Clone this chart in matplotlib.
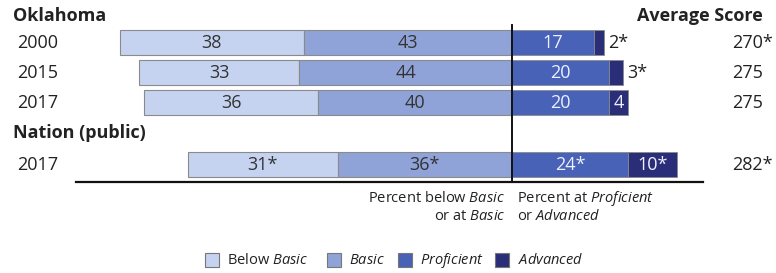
import matplotlib
matplotlib.use("Agg")
import matplotlib.pyplot as plt

plt.rcParams['font.family'] = ['Open Sans', 'DejaVu Sans']
plt.rcParams['mathtext.fontset'] = 'custom'
plt.rcParams['mathtext.rm'] = 'Open Sans'
plt.rcParams['mathtext.it'] = 'Open Sans:italic'

# ---- data ----
rows = ['2000', '2015', '2017', '2017']
below = [38, 33, 36, 31]
basic = [43, 44, 40, 36]
prof = [17, 20, 20, 24]
adv = [2, 3, 4, 10]
below_lbl = ['38', '33', '36', '31*']
basic_lbl = ['43', '44', '40', '36*']
prof_lbl = ['17', '20', '20', '24*']
adv_lbl = ['2*', '3*', '4', '10*']
scores = ['270*', '275', '275', '282*']

# ---- layout (pixel based) ----
W, H = 776, 273
CX = 512.0      # pixel of 0 %
S = 4.84        # pixels per percent
ypos = [42.5, 72.5, 102.5, 164.5]
bh = 25

def px(xp):
    return (xp - CX) / S

c_below = '#c6d3f0'
c_basic = '#8fa3d8'
c_prof = '#4762b6'
c_adv = '#2a2e78'
edge = '#8a8a8a'

fig = plt.figure(figsize=(W / 100, H / 100), dpi=100)
ax = fig.add_axes([0, 0, 1, 1])
ax.set_xlim(px(0), px(W))
ax.set_ylim(H, 0)
ax.axis('off')

fs = 13
for i in range(len(rows)):
    y = ypos[i]
    lb = -(below[i] + basic[i])
    ax.barh(y, below[i], left=lb, height=bh, color=c_below, edgecolor=edge, linewidth=0.8)
    ax.barh(y, basic[i], left=-basic[i], height=bh, color=c_basic, edgecolor=edge, linewidth=0.8)
    ax.barh(y, prof[i], left=0, height=bh, color=c_prof, edgecolor=edge, linewidth=0.6)
    ax.barh(y, adv[i], left=prof[i], height=bh, color=c_adv, edgecolor=edge, linewidth=0.6)
    ax.text(lb + below[i] / 2, y, below_lbl[i], ha='center', va='center', fontsize=fs, color='#333333')
    ax.text(-basic[i] / 2, y, basic_lbl[i], ha='center', va='center', fontsize=fs, color='#333333')
    ax.text(prof[i] / 2, y, prof_lbl[i], ha='center', va='center', fontsize=fs, color='#eef0ff')
    if adv[i] >= 4:
        ax.text(prof[i] + adv[i] / 2, y, adv_lbl[i], ha='center', va='center', fontsize=fs, color='#eef0ff')
    else:
        ax.text(prof[i] + adv[i] + 0.8, y, adv_lbl[i], ha='left', va='center', fontsize=fs, color='#222222')
    ax.text(px(17), y, rows[i], ha='left', va='center', fontsize=fs, color='#222222')
    ax.text(px(732), y, scores[i], ha='left', va='center', fontsize=fs, color='#222222')

# headings
ax.text(px(13), 16, 'Oklahoma', ha='left', va='center', fontsize=fs, fontweight='bold', color='#222222')
ax.text(px(13), 133, 'Nation (public)', ha='left', va='center', fontsize=fs, fontweight='bold', color='#222222')
ax.text(px(763), 16, 'Average Score', ha='right', va='center', fontsize=fs, fontweight='bold', color='#222222')

# lines
ax.plot([0, 0], [25, 182], color='#111111', lw=1.4)
ax.plot([px(76), px(703)], [182, 182], color='#111111', lw=1.6)

# axis notes
fs2 = 10.5
ax.text(px(505), 198, r'Percent below $\mathit{Basic}$', ha='right', va='center', fontsize=fs2, color='#222222')
ax.text(px(505), 216, r'or at $\mathit{Basic}$', ha='right', va='center', fontsize=fs2, color='#222222')
ax.text(px(517), 198, r'Percent at $\mathit{Proficient}$', ha='left', va='center', fontsize=fs2, color='#222222')
ax.text(px(517), 216, r'or $\mathit{Advanced}$', ha='left', va='center', fontsize=fs2, color='#222222')

# legend
leg_names = [r'Below $\mathit{Basic}$', r'$\mathit{Basic}$', r'$\mathit{Proficient}$', r'$\mathit{Advanced}$']
leg_cols = [c_below, c_basic, c_prof, c_adv]
leg_x = [205, 327, 398, 495]
leg_tx = [227, 349, 420, 518]
for name, col, sx, tx in zip(leg_names, leg_cols, leg_x, leg_tx):
    ax.barh(260, 14 / S, left=px(sx), height=14, color=col, edgecolor='#777777', linewidth=0.8)
    ax.text(px(tx), 261, name, ha='left', va='center', fontsize=fs2, color='#222222')

fig.savefig('out.png', dpi=100)
